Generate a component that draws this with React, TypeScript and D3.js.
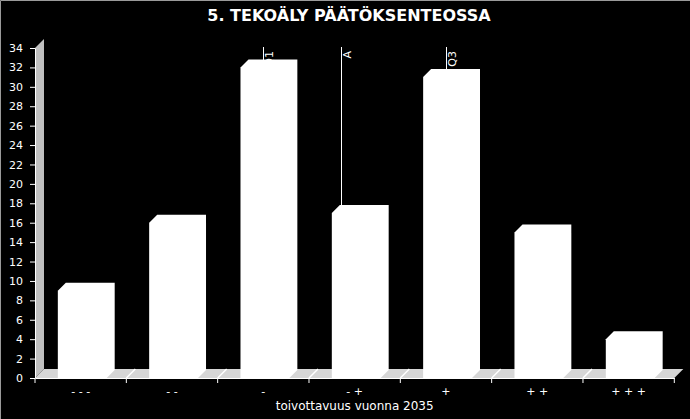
import React, { useEffect, useRef } from 'react';
import * as d3 from 'd3';

const categories = ['- - -', '- -', '-', '- +', '+', '+ +', '+ + +'];
const counts = [9, 16, 32, 17, 31, 15, 4];
const yTicks = [0, 2, 4, 6, 8, 10, 12, 14, 16, 18, 20, 22, 24, 26, 28, 30, 32, 34];
const markerLabels = ['Q1', 'A', 'Q3'];
const markerValues = [3, 3.85, 5];

const WIDTH = 690;
const HEIGHT = 419;
const FONT = "'DejaVu Sans', Verdana, sans-serif";

export default function App() {
  const svgRef = useRef<SVGSVGElement>(null);

  useEffect(() => {
    if (!svgRef.current) return;
    const svg = d3.select(svgRef.current);
    svg.selectAll('*').remove();
    svg.attr('width', WIDTH).attr('height', HEIGHT);

    const left = 35;
    const right = 674.3;
    const depth = 9; // floor / wall depth
    const barDepth = 8;

    svg.append('rect').attr('width', WIDTH).attr('height', HEIGHT).attr('fill', '#000');
    // faint frame on top and left edge
    svg.append('path').attr('d', `M0.5,${HEIGHT}V0.5H${WIDTH}`).attr('stroke', '#9a9a9a').attr('fill', 'none');

    const x = d3.scaleBand<string>().domain(categories).range([left, right]);
    const y = d3.scaleLinear().domain([0, 34]).range([378, 48]);
    const bw = x.bandwidth();
    const pos = d3
      .scaleLinear()
      .domain([1, categories.length])
      .range([x(categories[0])! + bw / 2, x(categories[categories.length - 1])! + bw / 2]);

    const y0 = y(0);
    const yTop = y(34);
    const line = d3.line();

    // back wall
    svg
      .append('path')
      .attr('d', line([[left, y0], [left, yTop], [left + depth, yTop - depth], [left + depth, y0 - depth]]) + 'Z')
      .attr('fill', '#c0c0c0');

    // floor
    svg
      .append('path')
      .attr('d', line([[left, y0], [left + depth, y0 - depth], [right + depth, y0 - depth], [right, y0]]) + 'Z')
      .attr('fill', '#d6d6d6');

    const bounds = categories.slice(1).map((c) => x(c)!);
    svg
      .selectAll('.floor-line')
      .data(bounds)
      .enter()
      .append('line')
      .attr('x1', (d) => d)
      .attr('y1', y0)
      .attr('x2', (d) => d + depth)
      .attr('y2', y0 - depth)
      .attr('stroke', '#fff')
      .attr('stroke-width', 1.5);

    // marker lines (quartiles, average)
    const markers = markerLabels.map((label, i) => ({ label, value: markerValues[i] }));
    svg
      .selectAll('.marker-line')
      .data(markers)
      .enter()
      .append('line')
      .attr('x1', (d) => Math.round(pos(d.value)) + 0.5)
      .attr('x2', (d) => Math.round(pos(d.value)) + 0.5)
      .attr('y1', yTop - 1)
      .attr('y2', y0 - depth)
      .attr('stroke', '#fff')
      .attr('stroke-width', 1);

    svg
      .selectAll('.marker-label')
      .data(markers)
      .enter()
      .append('text')
      .attr('transform', (d) => `translate(${pos(d.value) + 10},${51}) rotate(-90)`)
      .attr('text-anchor', 'end')
      .attr('fill', '#fff')
      .attr('font-family', FONT)
      .attr('font-size', 11)
      .text((d) => d.label);

    // bars as 3D boxes
    const data = categories.map((c, i) => ({ c, v: counts[i] }));
    svg
      .selectAll('.bar')
      .data(data)
      .enter()
      .append('path')
      .attr('d', (d) => {
        const x0 = x(d.c)! + bw * 0.25;
        const x1 = x0 + bw * 0.535;
        const t = y(d.v);
        return (
          line([
            [x0, y0],
            [x0, t],
            [x0 + barDepth, t - barDepth],
            [x1 + barDepth, t - barDepth],
            [x1 + barDepth, y0 - barDepth],
            [x1, y0],
          ]) + 'Z'
        );
      })
      .attr('fill', '#fff');

    // y axis
    const yAxis = d3.axisLeft(y).tickValues(yTicks).tickSize(5).tickSizeOuter(0).tickPadding(7);
    const gy = svg.append('g').attr('transform', `translate(${left},0)`).call(yAxis as any);
    gy.selectAll('path,line').attr('stroke', '#fff');
    gy.selectAll('text').attr('fill', '#fff').attr('font-family', FONT).attr('font-size', 11);

    // x axis
    const xAxis = d3.axisBottom(x).tickSize(0).tickSizeOuter(0).tickPadding(9);
    const gx = svg.append('g').attr('transform', `translate(0,${y0})`).call(xAxis as any);
    gx.selectAll('path').attr('stroke', '#fff');
    gx.selectAll('text').attr('fill', '#fff').attr('font-family', FONT).attr('font-size', 11);
    gx.selectAll('.bound-tick')
      .data(categories.map((c) => x(c)!).concat([right]))
      .enter()
      .append('line')
      .attr('x1', (d) => d)
      .attr('x2', (d) => d)
      .attr('y1', 0)
      .attr('y2', 5)
      .attr('stroke', '#fff');

    svg
      .append('text')
      .attr('x', (left + right) / 2)
      .attr('y', 410)
      .attr('text-anchor', 'middle')
      .attr('fill', '#fff')
      .attr('font-family', FONT)
      .attr('font-size', 12)
      .text('toivottavuus vuonna 2035');

    svg
      .append('text')
      .attr('x', 349)
      .attr('y', 21)
      .attr('text-anchor', 'middle')
      .attr('fill', '#fff')
      .attr('font-family', FONT)
      .attr('font-size', 16)
      .attr('font-weight', 'bold')
      .text('5. TEKOÄLY PÄÄTÖKSENTEOSSA');
  }, []);

  return <svg ref={svgRef} style={{ position: 'absolute', left: 0, top: 0, display: 'block' }} />;
}
